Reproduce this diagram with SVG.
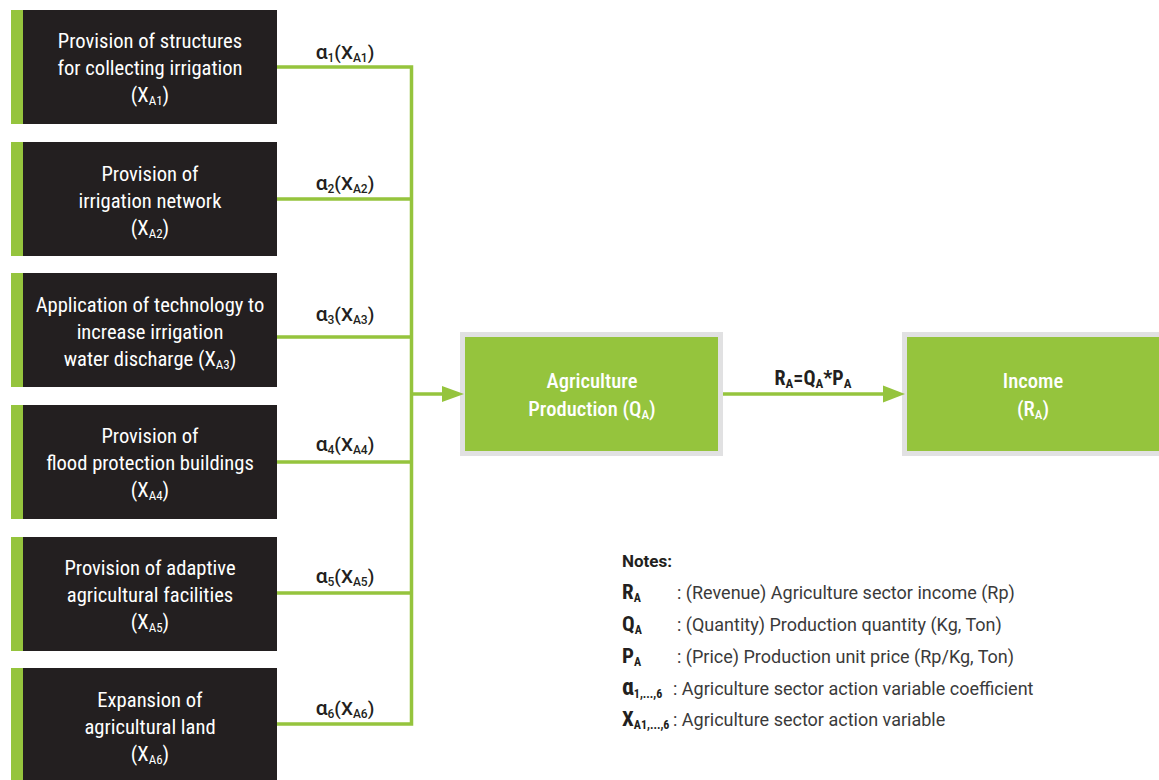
<svg xmlns="http://www.w3.org/2000/svg" width="1159" height="780" viewBox="0 0 1159 780">
  <style>
    .bar { fill: #95c43d; }
    .dark { fill: #231f20; }
    .box-text { font-family: "Roboto Condensed", "Liberation Sans Narrow", "DejaVu Sans Condensed", Roboto, sans-serif; font-stretch: condensed; font-size: 20.6px; fill: #ffffff; text-anchor: middle; }
    .green-text { font-weight: 500; }
    .green-box { fill: #95c43d; stroke: #e1e1e2; stroke-width: 5; }
    .wire { fill: none; stroke: #95c43d; stroke-width: 3.5; }
    .head { fill: #95c43d; }
    .coef { font-family: Roboto, "Liberation Sans", sans-serif; font-size: 19px; font-weight: 500; fill: #231f20; text-anchor: middle; }
    .alpha { font-size: 21px; }
    .formula { font-family: "Roboto Condensed", "Liberation Sans Narrow", "DejaVu Sans Condensed", Roboto, sans-serif; font-stretch: condensed; font-size: 20px; font-weight: bold; fill: #231f20; text-anchor: middle; }
    .notes-title { font-family: Roboto, "Liberation Sans", sans-serif; font-size: 17px; font-weight: bold; fill: #231f20; }
    .sym { font-family: "Roboto Condensed", "Liberation Sans Narrow", "DejaVu Sans Condensed", Roboto, sans-serif; font-stretch: condensed; font-size: 21px; font-weight: bold; fill: #231f20; }
    .note { font-family: Roboto, "Liberation Sans", sans-serif; font-size: 18px; fill: #3a3a3a; }
    .sub { font-size: 13px; }
    .sub-s { font-size: 12px; }
  </style>

  <!-- action variable boxes -->
  <g id="node-xa1">
    <rect class="bar" x="11" y="10" width="12" height="114"/>
    <rect class="dark" x="23" y="10" width="254" height="114"/>
    <text class="box-text" x="150" y="48">Provision of structures</text>
    <text class="box-text" x="150" y="75">for collecting irrigation</text>
    <text class="box-text" x="150" y="102">(X<tspan class="sub" dy="3">A1</tspan><tspan dy="-3">)</tspan></text>
  </g>
  <g id="node-xa2">
    <rect class="bar" x="11" y="142" width="12" height="114"/>
    <rect class="dark" x="23" y="142" width="254" height="114"/>
    <text class="box-text" x="150" y="181">Provision of</text>
    <text class="box-text" x="150" y="208">irrigation network</text>
    <text class="box-text" x="150" y="235">(X<tspan class="sub" dy="3">A2</tspan><tspan dy="-3">)</tspan></text>
  </g>
  <g id="node-xa3">
    <rect class="bar" x="11" y="273" width="12" height="114"/>
    <rect class="dark" x="23" y="273" width="254" height="114"/>
    <text class="box-text" x="150" y="312">Application of technology to</text>
    <text class="box-text" x="150" y="339">increase irrigation</text>
    <text class="box-text" x="150" y="366">water discharge (X<tspan class="sub" dy="3">A3</tspan><tspan dy="-3">)</tspan></text>
  </g>
  <g id="node-xa4">
    <rect class="bar" x="11" y="405" width="12" height="114"/>
    <rect class="dark" x="23" y="405" width="254" height="114"/>
    <text class="box-text" x="150" y="443">Provision of</text>
    <text class="box-text" x="150" y="470">flood protection buildings</text>
    <text class="box-text" x="150" y="497">(X<tspan class="sub" dy="3">A4</tspan><tspan dy="-3">)</tspan></text>
  </g>
  <g id="node-xa5">
    <rect class="bar" x="11" y="537" width="12" height="114"/>
    <rect class="dark" x="23" y="537" width="254" height="114"/>
    <text class="box-text" x="150" y="575">Provision of adaptive</text>
    <text class="box-text" x="150" y="602">agricultural facilities</text>
    <text class="box-text" x="150" y="629">(X<tspan class="sub" dy="3">A5</tspan><tspan dy="-3">)</tspan></text>
  </g>
  <g id="node-xa6">
    <rect class="bar" x="11" y="668" width="12" height="114"/>
    <rect class="dark" x="23" y="668" width="254" height="114"/>
    <text class="box-text" x="150" y="707">Expansion of</text>
    <text class="box-text" x="150" y="734">agricultural land</text>
    <text class="box-text" x="150" y="761">(X<tspan class="sub" dy="3">A6</tspan><tspan dy="-3">)</tspan></text>
  </g>

  <!-- result boxes -->
  <g id="node-production">
    <rect class="green-box" x="462.5" y="334.5" width="258" height="119"/>
    <text class="box-text green-text" x="592" y="388">Agriculture</text>
    <text class="box-text green-text" x="592" y="416">Production (Q<tspan class="sub" dy="3">A</tspan><tspan dy="-3">)</tspan></text>
  </g>
  <g id="node-income">
    <rect class="green-box" x="904.5" y="334.5" width="270" height="119"/>
    <text class="box-text green-text" x="1033" y="388">Income</text>
    <text class="box-text green-text" x="1033" y="416">(R<tspan class="sub" dy="3">A</tspan><tspan dy="-3">)</tspan></text>
  </g>

  <!-- connectors -->
  <g id="connectors">
    <path class="wire" d="M277 67H411.5M277 199H411.5M277 337H411.5M277 462H411.5M277 593H411.5M277 724H411.5M411.5 65.3V725.7"/>
    <path class="wire" d="M411.5 394H444"/>
    <polygon class="head" points="442,386 464,394 442,402"/>
    <path class="wire" d="M723 394H885"/>
    <polygon class="head" points="883,385.5 905,394 883,402.5"/>
    <text class="coef" x="345" y="59"><tspan class="alpha">α</tspan><tspan class="sub-s" dy="3">1</tspan><tspan dy="-3">(X</tspan><tspan class="sub-s" dy="3">A1</tspan><tspan dy="-3">)</tspan></text>
    <text class="coef" x="345" y="190"><tspan class="alpha">α</tspan><tspan class="sub-s" dy="3">2</tspan><tspan dy="-3">(X</tspan><tspan class="sub-s" dy="3">A2</tspan><tspan dy="-3">)</tspan></text>
    <text class="coef" x="345" y="321"><tspan class="alpha">α</tspan><tspan class="sub-s" dy="3">3</tspan><tspan dy="-3">(X</tspan><tspan class="sub-s" dy="3">A3</tspan><tspan dy="-3">)</tspan></text>
    <text class="coef" x="345" y="451"><tspan class="alpha">α</tspan><tspan class="sub-s" dy="3">4</tspan><tspan dy="-3">(X</tspan><tspan class="sub-s" dy="3">A4</tspan><tspan dy="-3">)</tspan></text>
    <text class="coef" x="345" y="583"><tspan class="alpha">α</tspan><tspan class="sub-s" dy="3">5</tspan><tspan dy="-3">(X</tspan><tspan class="sub-s" dy="3">A5</tspan><tspan dy="-3">)</tspan></text>
    <text class="coef" x="345" y="715"><tspan class="alpha">α</tspan><tspan class="sub-s" dy="3">6</tspan><tspan dy="-3">(X</tspan><tspan class="sub-s" dy="3">A6</tspan><tspan dy="-3">)</tspan></text>
    <text class="formula" x="813" y="385">R<tspan class="sub" dy="3">A</tspan><tspan dy="-3">=Q</tspan><tspan class="sub" dy="3">A</tspan><tspan dy="-3">*P</tspan><tspan class="sub" dy="3">A</tspan></text>
  </g>

  <!-- legend -->
  <g id="notes">
    <text class="notes-title" x="622" y="567">Notes:</text>
    <text class="sym" x="622" y="599">R<tspan class="sub-s" dy="3">A</tspan></text>
    <text class="note" x="677" y="599">: (Revenue) Agriculture sector income (Rp)</text>
    <text class="sym" x="622" y="631">Q<tspan class="sub-s" dy="3">A</tspan></text>
    <text class="note" x="677" y="631">: (Quantity) Production quantity (Kg, Ton)</text>
    <text class="sym" x="622" y="663">P<tspan class="sub-s" dy="3">A</tspan></text>
    <text class="note" x="677" y="663">: (Price) Production unit price (Rp/Kg, Ton)</text>
    <text class="sym" x="622" y="695"><tspan font-size="24">α</tspan><tspan class="sub-s" dy="3">1,...,6</tspan></text>
    <text class="note" x="673" y="695">: Agriculture sector action variable coefficient</text>
    <text class="sym" x="622" y="726">X<tspan class="sub-s" dy="3">A1,...,6</tspan></text>
    <text class="note" x="673" y="726">: Agriculture sector action variable</text>
  </g>
</svg>
